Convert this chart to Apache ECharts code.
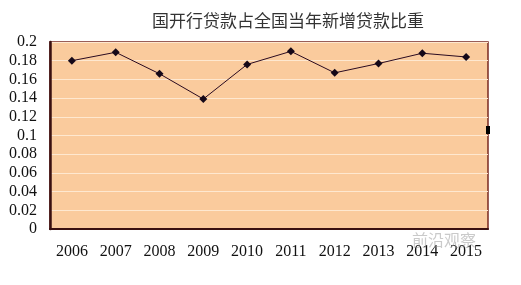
<!DOCTYPE html>
<html><head><meta charset="utf-8">
<script src="https://cdn.jsdelivr.net/npm/echarts@6/dist/echarts.min.js"></script>
<style>html,body{margin:0;padding:0;background:#fff}#c{width:521px;height:285px}</style>
</head><body><div id="c"></div>
<script>
var titleText = '国开行贷款占全国当年新增贷款比重';
var categories = ['2006','2007','2008','2009','2010','2011','2012','2013','2014','2015'];
var values = [0.180, 0.189, 0.166, 0.139, 0.176, 0.190, 0.167, 0.177, 0.188, 0.184];
var yTicks = ['0','0.02','0.04','0.06','0.08','0.1','0.12','0.14','0.16','0.18','0.2'];
var watermark = '前沿观察';

var chart = echarts.init(document.getElementById('c'), null, {renderer:'canvas'});
chart.setOption({
  animation:false,
  backgroundColor:'#fff',
  title:{text:titleText, left:147, top:7,
    textStyle:{fontFamily:'Noto Sans CJK SC', fontSize:17, fontWeight:'normal', color:'#333'}},
  grid:{left:50, right:33, top:42, bottom:56, show:true, backgroundColor:'#FACB9D', borderColor:'#7a2a20', borderWidth:1.5},
  xAxis:{type:'category', data:categories, boundaryGap:true,
    axisLine:{lineStyle:{color:'#3a1010', width:2}},
    axisTick:{inside:true, length:4, lineStyle:{color:'#3a1010'}},
    axisLabel:{margin:15, fontFamily:'Liberation Serif', fontSize:16, color:'#111'}},
  yAxis:{type:'value', min:0, max:0.2, interval:0.02,
    axisLine:{show:true, lineStyle:{color:'#3a1010', width:2.5}},
    axisTick:{show:false},
    splitLine:{lineStyle:{color:'#FEE8D0', width:1}},
    axisLabel:{margin:13, fontFamily:'Liberation Serif', fontSize:16, color:'#111',
      formatter:function(v){ var i=Math.round(v/0.02); return yTicks[i]; }}},
  series:[{type:'line', data:values, symbol:'diamond', symbolSize:8,
    itemStyle:{color:'#150818'}, lineStyle:{color:'#2a0a20', width:1}}],
  graphic:[
    {type:'text', left:412, top:232, z:10, style:{text:watermark, fontFamily:'Noto Sans CJK SC', fontSize:16, fill:'rgba(150,150,150,0.5)'}},
    {type:'rect', left:486, top:126, z:10, shape:{width:4, height:8}, style:{fill:'#000'}}
  ]
});
</script></body></html>
